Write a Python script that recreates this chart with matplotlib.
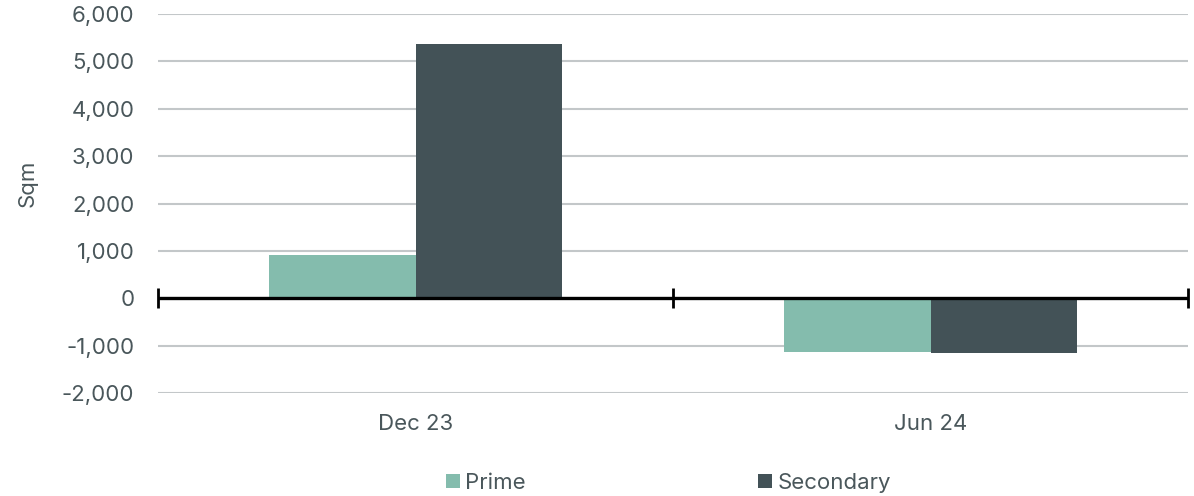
import numpy as np
import matplotlib
matplotlib.use("Agg")
import matplotlib.pyplot as plt
from matplotlib.ticker import FuncFormatter

plt.rcParams['font.family'] = ['Inter', 'DejaVu Sans']

# data
periods = ['Dec 23', 'Jun 24']
prime = [920, -1135]
secondary = [5370, -1165]
yticks = [-2000, -1000, 0, 1000, 2000, 3000, 4000, 5000, 6000]

text_col = '#4a575b'
prime_col = '#84bcad'
sec_col = '#435257'

fig = plt.figure(figsize=(11.94, 4.96), dpi=100)
ax = fig.add_axes([158/1194, 1 - 393/496, 1030/1194, 379/496])

x = np.arange(len(periods))
w = 0.285
ax.bar(x - w/2, prime, w, color=prime_col, label='Prime', zorder=2)
ax.bar(x + w/2, secondary, w, color=sec_col, label='Secondary', zorder=2)

ax.set_xlim(-0.5, len(periods) - 0.5)
ax.set_ylim(-2000, 6000)
ax.set_yticks(yticks)
ax.yaxis.set_major_formatter(FuncFormatter(lambda v, p: f"{v:,.0f}"))
ax.grid(axis='y', color='#c3c7c9', lw=1.5, zorder=0)
for s in ax.spines.values():
    s.set_visible(False)

ax.tick_params(axis='y', length=0, pad=17, labelsize=16, labelcolor=text_col)
ax.set_xticks(x)
ax.set_xticklabels(periods)
ax.tick_params(axis='x', length=0, pad=15, labelsize=16, labelcolor=text_col)

ax.set_ylabel('Sqm', fontsize=16, color=text_col)
ax.yaxis.set_label_coords(-0.1165, 0.554)

# zero line with category boundary ticks
ax.axhline(0, color='black', lw=2.4, zorder=4)
zero = ax.secondary_xaxis(2000 / 8000)
zero.set_zorder(5)
zero.spines['bottom'].set_visible(False)
zero.set_xticks(np.arange(len(periods) + 1) - 0.5)
zero.tick_params(direction='inout', length=14, width=2, color='black', labelbottom=False)

ax.legend(loc='center', bbox_to_anchor=(0.4956, -0.237), ncol=2, frameon=False,
          fontsize=16, handlelength=0.63, handleheight=0.63, handletextpad=0.25,
          columnspacing=10.45, labelcolor=text_col)

fig.savefig('out.png', dpi=100)
